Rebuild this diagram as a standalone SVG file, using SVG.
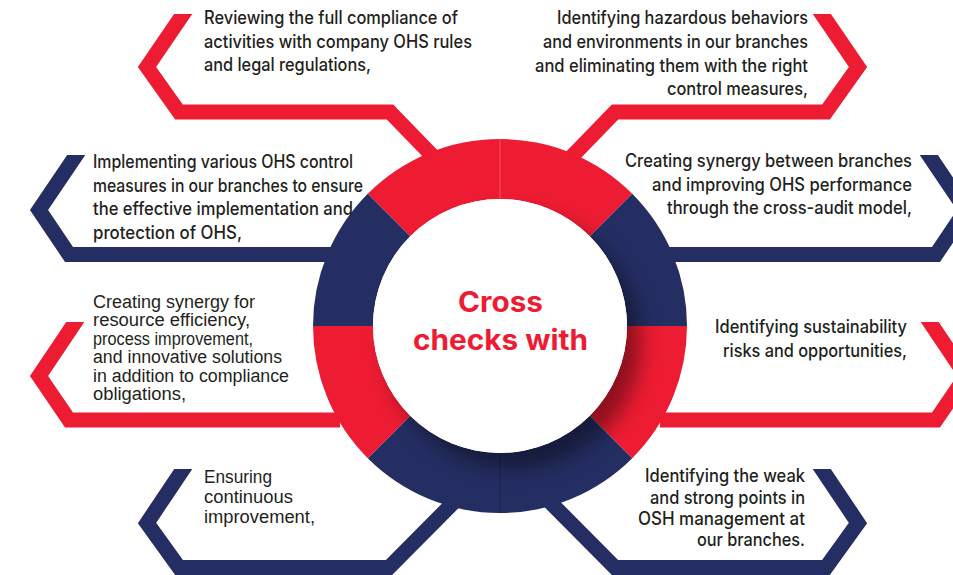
<svg xmlns="http://www.w3.org/2000/svg" width="953" height="575" viewBox="0 0 953 575">
<defs>
<style>
.red{stroke:#ED1C33}
.navy{stroke:#252E63}
.conn path{fill:none;stroke-width:15;stroke-linejoin:miter;stroke-miterlimit:10}
.fr{fill:#ED1C33}
.fn{fill:#252E63}
.t{font-family:Inter,"Liberation Sans",sans-serif;font-size:18px;font-weight:500;fill:#231F20}
.h{font-family:"Liberation Sans",Arial,sans-serif;font-size:18px;fill:#231F20}
.e{text-anchor:end}
.c{font-family:Inter,"Liberation Sans",sans-serif;font-weight:700;font-size:28px;fill:#ED1C33;text-anchor:middle}
</style>
<clipPath id="k1"><rect x="0" y="14" width="953" height="561"/></clipPath>
<clipPath id="k2"><rect x="0" y="155" width="953" height="420"/></clipPath>
<clipPath id="k3"><rect x="0" y="322" width="953" height="253"/></clipPath>
<clipPath id="k4"><rect x="0" y="469" width="953" height="106"/></clipPath>
<clipPath id="ringclip"><path clip-rule="evenodd" d="M313,326a187,187 0 1,0 374,0a187,187 0 1,0 -374,0ZM373,326a127,127 0 1,0 254,0a127,127 0 1,0 -254,0Z"/></clipPath>
<filter id="blur" x="-30%" y="-30%" width="160%" height="160%"><feGaussianBlur stdDeviation="10"/></filter>
</defs>
<rect width="953" height="575" fill="#fff"/>
<g id="connectors" class="conn">
<path class="red" clip-path="url(#k1)" d="M190,4 L147,67 L179,112 L390,112 L452,176"/>
<path class="red" clip-path="url(#k1)" d="M815,4 L858,67 L826,112 L615,112 L553,176"/>
<path class="navy" clip-path="url(#k2)" d="M83,145 L39,210 L69,254.5 L340,254.5"/>
<path class="navy" clip-path="url(#k2)" d="M922,145 L966,210 L936,254.5 L660,254.5"/>
<path class="red" clip-path="url(#k3)" d="M82,312 L39,376 L69,420 L340,420"/>
<path class="red" clip-path="url(#k3)" d="M923,312 L966,376 L936,420 L660,420"/>
<path class="navy" clip-path="url(#k4)" d="M190,459 L147,523 L179,567.5 L389,567.5 L463,493"/>
<path class="navy" clip-path="url(#k4)" d="M815,459 L858,523 L826,567.5 L615,567.5 L542,494"/>
</g>
<g id="hub">
<path class="fr" d="M367.77,193.77 A187,187 0 0,1 632.23,193.77 L589.8,236.2 A127,127 0 0,0 410.2,236.2 Z"/>
<path class="fn" d="M632.23,193.77 A187,187 0 0,1 687,326 L627,326 A127,127 0 0,0 589.8,236.2 Z"/>
<path class="fr" d="M687,326 A187,187 0 0,1 632.23,458.23 L589.8,415.8 A127,127 0 0,0 627,326 Z"/>
<path class="fn" d="M632.23,458.23 A187,187 0 0,1 367.77,458.23 L410.2,415.8 A127,127 0 0,0 589.8,415.8 Z"/>
<path class="fr" d="M367.77,458.23 A187,187 0 0,1 313,326 L373,326 A127,127 0 0,0 410.2,415.8 Z"/>
<path class="fn" d="M313,326 A187,187 0 0,1 367.77,193.77 L410.2,236.2 A127,127 0 0,0 373,326 Z"/>
<g clip-path="url(#ringclip)"><circle cx="514" cy="342" r="127" fill="#000" opacity="0.4" filter="url(#blur)"/></g>
<line x1="500" y1="139" x2="500" y2="199" stroke="#fff" stroke-opacity="0.25" stroke-width="1"/>
<line x1="500" y1="453" x2="500" y2="513" stroke="#000" stroke-opacity="0.25" stroke-width="1"/>
<circle cx="500" cy="326" r="127" fill="#fff"/>
<text class="c" x="500.5" y="312" textLength="85" lengthAdjust="spacingAndGlyphs">Cross</text>
<text class="c" x="500.5" y="350" textLength="175" lengthAdjust="spacingAndGlyphs">checks with</text>
</g>
<g id="item1" class="t">
<text x="204" y="23.5" textLength="254" lengthAdjust="spacingAndGlyphs">Reviewing the full compliance of</text>
<text x="204" y="47.5" textLength="268" lengthAdjust="spacingAndGlyphs">activities with company OHS rules</text>
<text x="204" y="71" textLength="167" lengthAdjust="spacingAndGlyphs">and legal regulations,</text>
</g>
<g id="item2" class="t e">
<text x="808" y="23.5" textLength="251" lengthAdjust="spacingAndGlyphs">Identifying hazardous behaviors</text>
<text x="808" y="47.5" textLength="265" lengthAdjust="spacingAndGlyphs">and environments in our branches</text>
<text x="808" y="71.5" textLength="273" lengthAdjust="spacingAndGlyphs">and eliminating them with the right</text>
<text x="808" y="95" textLength="141" lengthAdjust="spacingAndGlyphs">control measures,</text>
</g>
<g id="item3" class="t">
<text x="93" y="168" textLength="260" lengthAdjust="spacingAndGlyphs">Implementing various OHS control</text>
<text x="93" y="192" textLength="270" lengthAdjust="spacingAndGlyphs">measures in our branches to ensure</text>
<text x="93" y="215" textLength="260" lengthAdjust="spacingAndGlyphs">the effective implementation and</text>
<text x="93" y="238.5" textLength="149" lengthAdjust="spacingAndGlyphs">protection of OHS,</text>
</g>
<g id="item4" class="t e">
<text x="912" y="167" textLength="287" lengthAdjust="spacingAndGlyphs">Creating synergy between branches</text>
<text x="912" y="190.5" textLength="260" lengthAdjust="spacingAndGlyphs">and improving OHS performance</text>
<text x="912" y="214" textLength="245" lengthAdjust="spacingAndGlyphs">through the cross-audit model,</text>
</g>
<g id="item5" class="h">
<text x="93" y="307.5" textLength="162" lengthAdjust="spacingAndGlyphs">Creating synergy for</text>
<text x="93" y="326" textLength="157" lengthAdjust="spacingAndGlyphs">resource efficiency,</text>
<text x="93" y="344.5" textLength="160" lengthAdjust="spacingAndGlyphs">process improvement,</text>
<text x="93" y="363" textLength="189" lengthAdjust="spacingAndGlyphs">and innovative solutions</text>
<text x="93" y="381.5" textLength="196" lengthAdjust="spacingAndGlyphs">in addition to compliance</text>
<text x="93" y="400" textLength="93" lengthAdjust="spacingAndGlyphs">obligations,</text>
</g>
<g id="item6" class="t e">
<text x="907" y="333" textLength="192" lengthAdjust="spacingAndGlyphs">Identifying sustainability</text>
<text x="907" y="357" textLength="184" lengthAdjust="spacingAndGlyphs">risks and opportunities,</text>
</g>
<g id="item7" class="h">
<text x="204" y="483" textLength="68" lengthAdjust="spacingAndGlyphs">Ensuring</text>
<text x="204" y="503" textLength="89" lengthAdjust="spacingAndGlyphs">continuous</text>
<text x="204" y="522.5" textLength="111" lengthAdjust="spacingAndGlyphs">improvement,</text>
</g>
<g id="item8" class="t e">
<text x="805" y="482" textLength="160" lengthAdjust="spacingAndGlyphs">Identifying the weak</text>
<text x="805" y="503.5" textLength="155" lengthAdjust="spacingAndGlyphs">and strong points in</text>
<text x="805" y="525" textLength="167" lengthAdjust="spacingAndGlyphs">OSH management at</text>
<text x="805" y="546" textLength="108" lengthAdjust="spacingAndGlyphs">our branches.</text>
</g>
</svg>
